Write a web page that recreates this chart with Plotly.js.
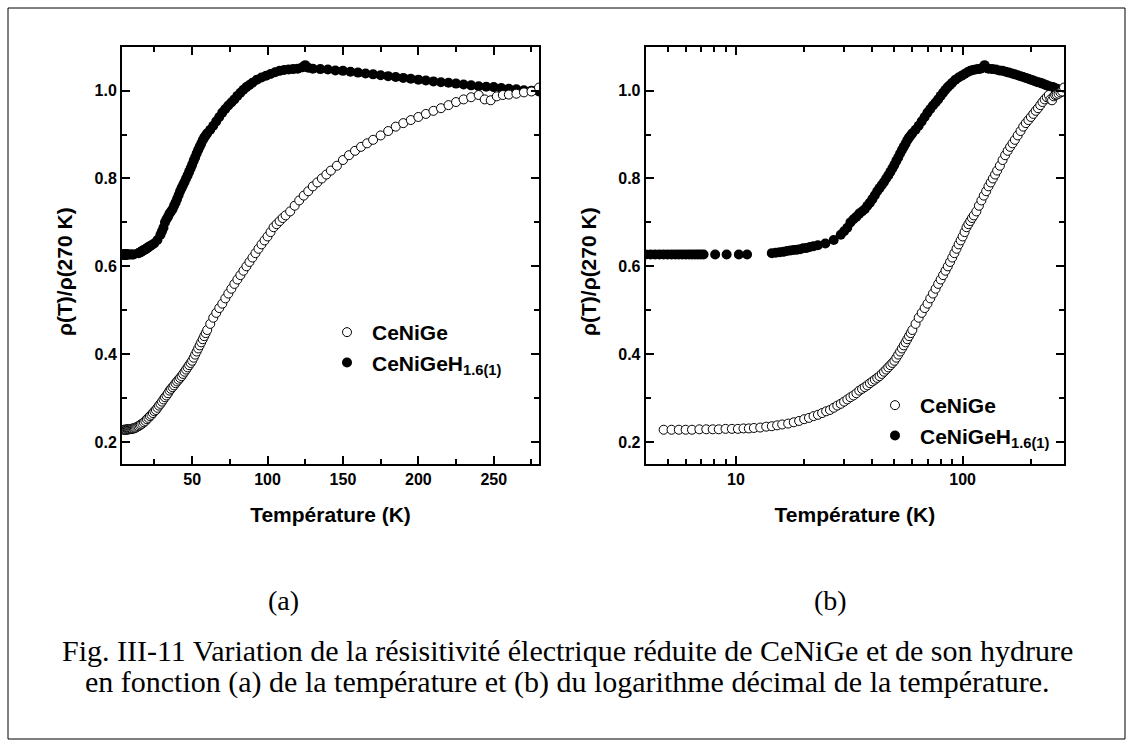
<!DOCTYPE html>
<html><head><meta charset="utf-8">
<script src="https://cdn.plot.ly/plotly-3.0.1.min.js"></script>
<style>body{margin:0;background:#fff}#chart{width:1133px;height:747px}</style>
</head><body><div id="chart"></div>
<script>
// ---- data ----
const T_CeNiGe = [4.8,5.2,5.6,6.0,6.4,6.9,7.4,7.9,8.4,9.0,9.6,10.2,10.8,11.4,12.0,12.8,13.6,14.4,15.2,16.0,17,18,19,20,21,22,23,24,25,26,27,28,29,30,31,32,33,34,35,36,37,38,39,40,41,42,43,44,45,46,47,48,49,50,51,52,53,54,55,56,57,58,59,60,62,64,66,68,70,72,74,76,78,80,82,84,86,88,90,92,94,96,98,100,102,104,106,108,110,112,115,118,121,124,127,130,133,136,139,142,146,150,154,158,162,166,170,175,180,185,190,195,200,205,210,215,220,225,230,235,240,244,248,252,256,260,265,270,275,280];
const rho_CeNiGe = [0.228,0.228,0.228,0.228,0.228,0.229,0.229,0.229,0.229,0.230,0.230,0.230,0.231,0.231,0.232,0.233,0.235,0.236,0.238,0.240,0.242,0.245,0.248,0.252,0.255,0.259,0.262,0.266,0.270,0.273,0.278,0.283,0.287,0.292,0.297,0.302,0.306,0.311,0.317,0.321,0.325,0.329,0.334,0.338,0.342,0.346,0.350,0.355,0.360,0.365,0.370,0.375,0.380,0.385,0.392,0.399,0.406,0.413,0.420,0.427,0.434,0.441,0.448,0.455,0.469,0.483,0.494,0.505,0.515,0.527,0.538,0.549,0.560,0.570,0.580,0.590,0.600,0.610,0.620,0.630,0.640,0.650,0.659,0.668,0.678,0.689,0.696,0.703,0.710,0.716,0.725,0.738,0.750,0.761,0.771,0.782,0.791,0.800,0.809,0.818,0.829,0.842,0.853,0.863,0.872,0.880,0.888,0.898,0.908,0.918,0.926,0.933,0.940,0.947,0.954,0.960,0.967,0.974,0.980,0.985,0.990,0.980,0.978,0.987,0.990,0.991,0.993,0.996,0.998,1.007];
const T_CeNiGeH = [4.0,4.2,4.4,4.6,4.8,5.0,5.2,5.4,5.6,5.8,6.0,6.2,6.4,6.6,6.8,7.0,7.2,8.1,9.1,10.3,11.2,14.4,15.0,15.6,16.2,16.8,17.4,18.0,18.6,19.2,19.8,20.5,21.2,22.0,23.0,24.8,27.0,29.0,30,31,32,33,34,35,36,37,38,39,40,41,42,43,44,45,46,47,48,49,50,51,52,53,54,55,56,57,58,59,60,62,64,66,68,70,72,74,76,78,80,82,84,86,88,90,93,96,99,102,105,108,111,114,117,120,123,125,127,130,135,140,145,150,155,160,165,170,175,180,185,190,195,200,205,210,215,220,225,230,235,240,245,250,255,260,265,270,275,280];
const rho_CeNiGeH = [0.627,0.627,0.627,0.627,0.627,0.627,0.627,0.627,0.627,0.627,0.627,0.627,0.627,0.627,0.627,0.627,0.627,0.627,0.627,0.627,0.627,0.630,0.631,0.632,0.633,0.635,0.636,0.637,0.638,0.639,0.641,0.642,0.644,0.646,0.648,0.652,0.660,0.672,0.680,0.688,0.700,0.707,0.713,0.720,0.725,0.730,0.738,0.745,0.753,0.762,0.771,0.778,0.785,0.792,0.800,0.807,0.815,0.823,0.831,0.840,0.848,0.857,0.865,0.872,0.879,0.887,0.893,0.898,0.903,0.911,0.920,0.930,0.940,0.950,0.958,0.966,0.973,0.980,0.988,0.995,1.002,1.008,1.013,1.018,1.025,1.030,1.034,1.038,1.042,1.045,1.047,1.048,1.049,1.050,1.053,1.058,1.052,1.050,1.049,1.048,1.046,1.045,1.043,1.041,1.039,1.037,1.035,1.033,1.031,1.029,1.027,1.025,1.023,1.021,1.019,1.018,1.016,1.014,1.012,1.010,1.009,1.008,1.006,1.004,1.003,1.001,1.000,0.998];
const seriesNames = ['CeNiGe', 'CeNiGeH<sub>1.6(1)</sub>'];
const xTitle = 'Température (K)';
const yTitle = 'ρ(T)/ρ(270 K)';
const panelLabels = ['(a)', '(b)'];
const captionLines = [
  'Fig. III-11 Variation de la résisitivité électrique réduite de CeNiGe et de son hydrure',
  'en fonction (a) de la température et (b) du logarithme décimal de la température.'
];

// ---- geometry helpers (pixels -> paper) ----
const W = 1133, H = 747;
const px = v => v / W, py = v => 1 - v / H;

const openMarker = {symbol: 'circle', size: 9, color: '#ffffff', line: {color: '#000000', width: 1}};
const fullMarker = {symbol: 'circle', size: 10, color: '#000000', line: {color: '#000000', width: 0}};

const traces = [
  {x: T_CeNiGeH, y: rho_CeNiGeH, xaxis: 'x', yaxis: 'y', mode: 'markers', name: seriesNames[1], marker: fullMarker, legend: 'legend', legendrank: 2},
  {x: T_CeNiGe, y: rho_CeNiGe, xaxis: 'x', yaxis: 'y', mode: 'markers', name: seriesNames[0], marker: openMarker, legend: 'legend', legendrank: 1},
  {x: T_CeNiGeH, y: rho_CeNiGeH, xaxis: 'x2', yaxis: 'y2', mode: 'markers', name: seriesNames[1], marker: fullMarker, legend: 'legend2', legendrank: 2},
  {x: T_CeNiGe, y: rho_CeNiGe, xaxis: 'x2', yaxis: 'y2', mode: 'markers', name: seriesNames[0], marker: openMarker, legend: 'legend2', legendrank: 1}
];

const sans = 'Liberation Sans, Arial, sans-serif';
const serif = 'Liberation Serif, Times New Roman, serif';
const tickFont = {family: sans, size: 16, color: '#000', weight: 'bold'};
const titleFont = {family: sans, size: 21, color: '#000', weight: 'bold'};
const legendFont = {family: sans, size: 21, color: '#000', weight: 'bold'};
const axisCommon = {
  showline: true, linecolor: '#000', linewidth: 2, mirror: 'ticks',
  ticks: 'inside', ticklen: 8, tickwidth: 2, tickcolor: '#000',
  showgrid: false, zeroline: false, tickfont: tickFont
};
const yAxis = Object.assign({}, axisCommon, {
  range: [0.15, 1.10], tick0: 0.2, dtick: 0.2, tickformat: '.1f',
  minor: {ticks: 'inside', ticklen: 5, tickwidth: 2, tickcolor: '#000', dtick: 0.1, showgrid: false},
  domain: [py(464), py(46.7)]
});

const layout = {
  width: W, height: H,
  margin: {l: 0, r: 0, t: 0, b: 0},
  paper_bgcolor: '#fff', plot_bgcolor: '#fff',
  showlegend: true,
  xaxis: Object.assign({}, axisCommon, {
    range: [3.5, 280], tick0: 0, dtick: 50,
    minor: {ticks: 'inside', ticklen: 5, tickwidth: 2, tickcolor: '#000', dtick: 25, showgrid: false},
    title: {text: xTitle, font: titleFont, standoff: 20},
    domain: [px(122), px(539)], anchor: 'y'
  }),
  yaxis: Object.assign({}, yAxis, {anchor: 'x'}),
  xaxis2: Object.assign({}, axisCommon, {
    type: 'log', range: [Math.log10(4), Math.log10(280)], dtick: 1,
    minor: {ticks: 'inside', ticklen: 5, tickwidth: 2, tickcolor: '#000', dtick: 'D1', showgrid: false},
    title: {text: xTitle, font: titleFont, standoff: 20},
    domain: [px(645.7), px(1064)], anchor: 'y2'
  }),
  yaxis2: Object.assign({}, yAxis, {anchor: 'x2'}),
  legend: {
    x: px(322), y: py(312), xanchor: 'left', yanchor: 'top',
    bgcolor: 'rgba(0,0,0,0)', borderwidth: 0, itemwidth: 40,
    font: legendFont, tracegroupgap: 0
  },
  legend2: {
    x: px(870), y: py(385), xanchor: 'left', yanchor: 'top',
    bgcolor: 'rgba(0,0,0,0)', borderwidth: 0, itemwidth: 40,
    font: legendFont, tracegroupgap: 0
  },
  annotations: [
    {text: yTitle, x: px(64), y: py(272), xref: 'paper', yref: 'paper', showarrow: false, textangle: -90,
     xanchor: 'center', yanchor: 'middle', font: titleFont},
    {text: yTitle, x: px(588), y: py(272), xref: 'paper', yref: 'paper', showarrow: false, textangle: -90,
     xanchor: 'center', yanchor: 'middle', font: titleFont},
    {text: panelLabels[0], x: px(283), y: py(600), xref: 'paper', yref: 'paper', showarrow: false,
     xanchor: 'center', yanchor: 'middle', font: {family: serif, size: 28, color: '#000'}},
    {text: panelLabels[1], x: px(830), y: py(600), xref: 'paper', yref: 'paper', showarrow: false,
     xanchor: 'center', yanchor: 'middle', font: {family: serif, size: 28, color: '#000'}},
    {text: captionLines[0], x: px(567), y: py(650), xref: 'paper', yref: 'paper', showarrow: false,
     xanchor: 'center', yanchor: 'middle', font: {family: serif, size: 30, color: '#000'}},
    {text: captionLines[1], x: px(567), y: py(682), xref: 'paper', yref: 'paper', showarrow: false,
     xanchor: 'center', yanchor: 'middle', font: {family: serif, size: 30, color: '#000'}}
  ],
  shapes: [
    {type: 'rect', xref: 'paper', yref: 'paper', x0: px(8), x1: px(1125), y0: py(739), y1: py(8),
     line: {color: '#000', width: 1}, fillcolor: 'rgba(0,0,0,0)'}
  ]
};

Plotly.newPlot('chart', traces, layout, {displayModeBar: false, staticPlot: true});
</script>
</body></html>
